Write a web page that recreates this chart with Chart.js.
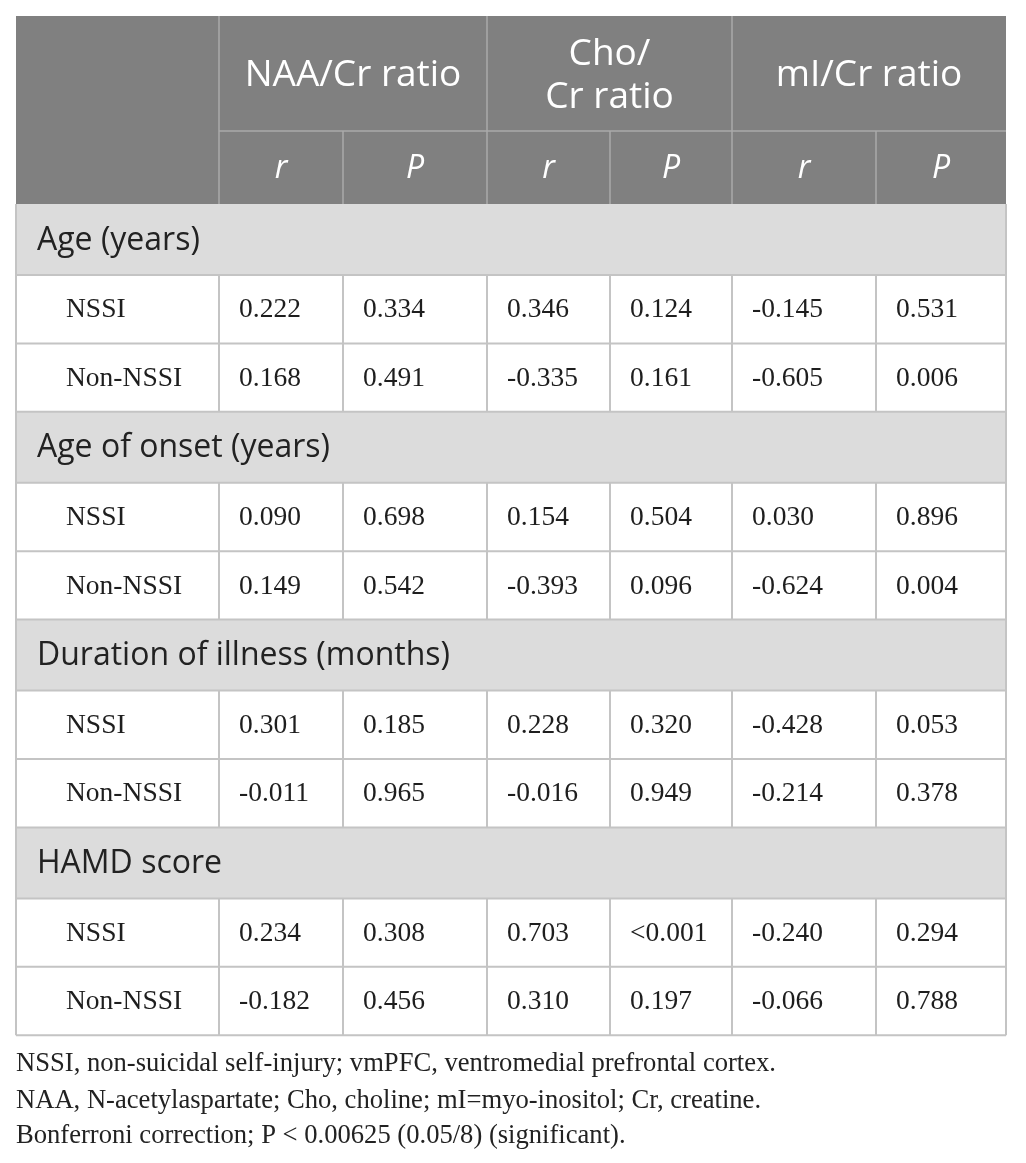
<!DOCTYPE html>
<html>
<head>
<meta charset="utf-8">
<script src="https://cdn.jsdelivr.net/npm/chart.js@4.4.1/dist/chart.umd.min.js"></script>
<style>
  html, body { margin: 0; padding: 0; background: #ffffff; }
  canvas { display: block; }
</style>
</head>
<body>
<canvas id="table-chart" width="1026" height="1163"></canvas>
<script>
// table content
var groups = ['Age (years)', 'Age of onset (years)', 'Duration of illness (months)', 'HAMD score'];
var subgroups = ['NSSI', 'Non-NSSI'];
var metrics = ['NAA/Cr ratio', 'Cho/\nCr ratio', 'mI/Cr ratio'];
var stats = ['r', 'P'];

// one entry per data row: NSSI / Non-NSSI for each group in turn
var naaR = ['0.222', '0.168', '0.090', '0.149', '0.301', '-0.011', '0.234', '-0.182'];
var naaP = ['0.334', '0.491', '0.698', '0.542', '0.185', '0.965', '0.308', '0.456'];
var choR = ['0.346', '-0.335', '0.154', '-0.393', '0.228', '-0.016', '0.703', '0.310'];
var choP = ['0.124', '0.161', '0.504', '0.096', '0.320', '0.949', '<0.001', '0.197'];
var miR = ['-0.145', '-0.605', '0.030', '-0.624', '-0.428', '-0.214', '-0.240', '-0.066'];
var miP = ['0.531', '0.006', '0.896', '0.004', '0.053', '0.378', '0.294', '0.788'];

var footnotes = [
    'NSSI, non-suicidal self-injury; vmPFC, ventromedial prefrontal cortex.',
    'NAA, N-acetylaspartate; Cho, choline; mI=myo-inositol; Cr, creatine.',
    'Bonferroni correction; P < 0.00625 (0.05/8) (significant).'
];

// layout (scale units)
var tableLeft = 16;
var tableTop = 16;
var colWidths = [203, 124, 144, 123, 122, 144, 130];
var headRows = [115, 73];
var sectionH = 71;
var rowH = 68.4;
var footY = [1064, 1101, 1136];

var SANS = '"Open Sans", "Noto Sans", sans-serif';
var SERIF = '"Liberation Serif", "DejaVu Serif", serif';

var colEdges = [tableLeft];
colWidths.forEach(function (w) { colEdges.push(colEdges[colEdges.length - 1] + w); });

function buildRows() {
    var rows = [];
    var y = tableTop + headRows[0] + headRows[1];
    var k = 0;
    groups.forEach(function (g) {
        rows.push({ kind: 'section', label: g, top: y, bottom: y + sectionH });
        y += sectionH;
        subgroups.forEach(function (s) {
            rows.push({
                kind: 'data', label: s, top: y, bottom: y + rowH,
                values: [naaR[k], naaP[k], choR[k], choP[k], miR[k], miP[k]]
            });
            y += rowH;
            k++;
        });
    });
    return rows;
}

var tablePlugin = {
    id: 'tablePlugin',
    afterDraw: function (chart) {
        var ctx = chart.ctx;
        var xs = chart.scales.x, ys = chart.scales.y;
        var X = function (v) { return xs.getPixelForValue(v); };
        var Y = function (v) { return ys.getPixelForValue(v); };
        var right = colEdges[colEdges.length - 1];
        var h1 = tableTop + headRows[0];
        var h2 = h1 + headRows[1];
        var rows = buildRows();
        var bottom = rows[rows.length - 1].bottom;

        ctx.save();

        // header block
        ctx.fillStyle = '#808080';
        ctx.fillRect(X(tableLeft), Y(tableTop), X(right) - X(tableLeft), Y(h2) - Y(tableTop));

        ctx.strokeStyle = '#a9a9a9';
        ctx.lineWidth = 1.5;
        ctx.beginPath();
        ctx.moveTo(X(colEdges[1]), Y(h1));
        ctx.lineTo(X(right), Y(h1));
        [1, 3, 5].forEach(function (i) {
            ctx.moveTo(X(colEdges[i]), Y(tableTop));
            ctx.lineTo(X(colEdges[i]), Y(h2));
        });
        [2, 4, 6].forEach(function (i) {
            ctx.moveTo(X(colEdges[i]), Y(h1));
            ctx.lineTo(X(colEdges[i]), Y(h2));
        });
        ctx.stroke();

        ctx.fillStyle = '#ffffff';
        ctx.textAlign = 'center';
        ctx.textBaseline = 'middle';
        ctx.font = '37px ' + SANS;
        metrics.forEach(function (m, i) {
            var cx = (X(colEdges[1 + 2 * i]) + X(colEdges[3 + 2 * i])) / 2;
            var cy = (Y(tableTop) + Y(h1)) / 2 + 2;
            var lines = m.split('\n');
            var lh = 43;
            lines.forEach(function (line, j) {
                ctx.fillText(line, cx, cy + (j - (lines.length - 1) / 2) * lh);
            });
        });
        ctx.font = 'italic 32px ' + SANS;
        for (var c = 1; c < colEdges.length - 1; c++) {
            var cx = (X(colEdges[c]) + X(colEdges[c + 1])) / 2;
            ctx.fillText(stats[(c - 1) % 2], cx, (Y(h1) + Y(h2)) / 2 + 1);
        }

        // body rows
        rows.forEach(function (row) {
            var cy = (Y(row.top) + Y(row.bottom)) / 2;
            if (row.kind === 'section') {
                ctx.fillStyle = '#dcdcdc';
                ctx.fillRect(X(tableLeft), Y(row.top), X(right) - X(tableLeft), Y(row.bottom) - Y(row.top));
                ctx.fillStyle = '#222222';
                ctx.textAlign = 'left';
                ctx.font = '32px ' + SANS;
                ctx.fillText(row.label, X(tableLeft) + 21, cy + 1);
            } else {
                ctx.fillStyle = '#1e1e1e';
                ctx.textAlign = 'left';
                ctx.font = '27.5px ' + SERIF;
                ctx.fillText(row.label, X(tableLeft) + 50, cy + 1);
                row.values.forEach(function (v, i) {
                    ctx.fillText(v, X(colEdges[i + 1]) + 20, cy + 1);
                });
            }
        });

        // body grid
        ctx.strokeStyle = '#c4c4c4';
        ctx.lineWidth = 2;
        ctx.beginPath();
        rows.forEach(function (row) {
            ctx.moveTo(X(tableLeft), Y(row.bottom));
            ctx.lineTo(X(right), Y(row.bottom));
            if (row.kind === 'data') {
                for (var i = 1; i < colEdges.length - 1; i++) {
                    ctx.moveTo(X(colEdges[i]), Y(row.top));
                    ctx.lineTo(X(colEdges[i]), Y(row.bottom));
                }
            }
        });
        ctx.moveTo(X(tableLeft), Y(h2));
        ctx.lineTo(X(tableLeft), Y(bottom));
        ctx.moveTo(X(right), Y(h2));
        ctx.lineTo(X(right), Y(bottom));
        ctx.stroke();

        // notes
        ctx.fillStyle = '#222222';
        ctx.textAlign = 'left';
        ctx.font = '26.6px ' + SERIF;
        footnotes.forEach(function (t, i) {
            ctx.fillText(t, X(tableLeft), Y(footY[i]));
        });

        ctx.restore();
    }
};

var tableContext = document.getElementById('table-chart').getContext('2d');
window.myTable = new Chart(tableContext, {
    type: 'scatter',
    data: { datasets: [] },
    options: {
        responsive: false,
        animation: false,
        layout: { padding: 0 },
        plugins: {
            legend: { display: false },
            tooltip: { enabled: false }
        },
        scales: {
            x: { type: 'linear', min: 0, max: 1026, display: false },
            y: { type: 'linear', min: 0, max: 1163, reverse: true, display: false }
        }
    },
    plugins: [tablePlugin]
});
</script>
</body>
</html>
